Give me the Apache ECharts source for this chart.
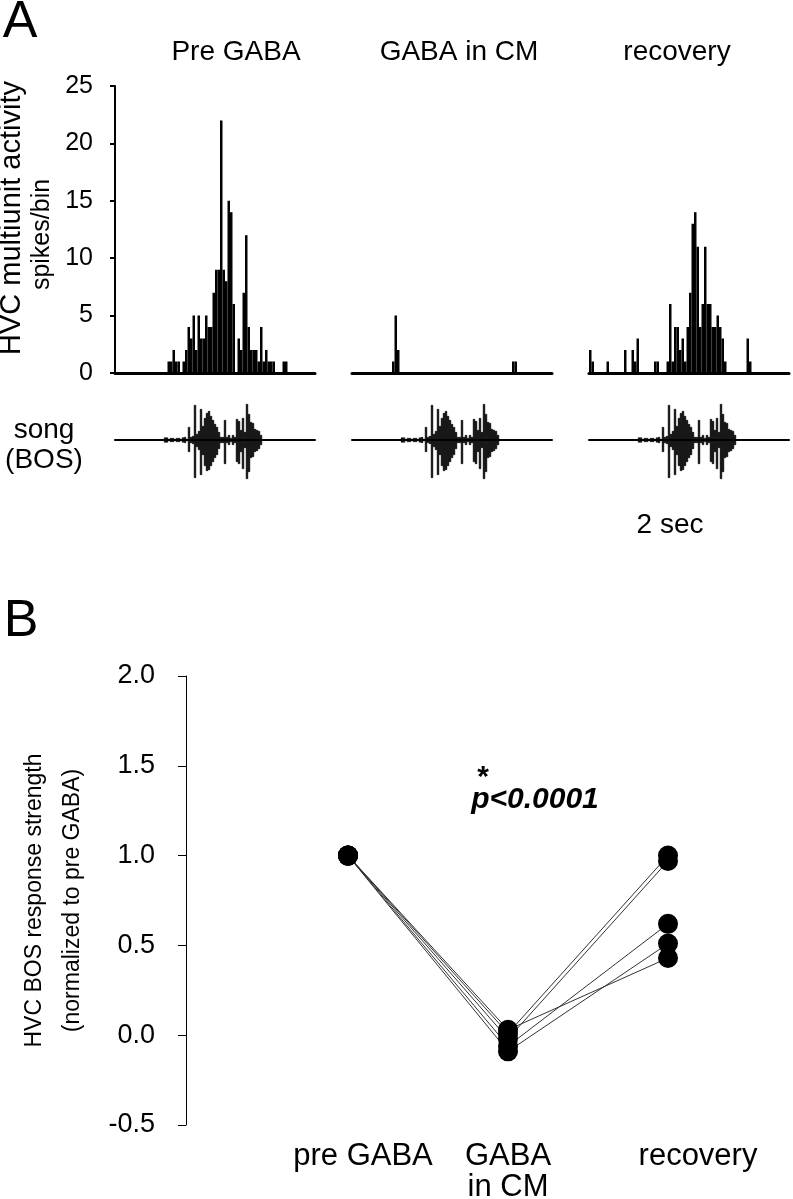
<!DOCTYPE html>
<html><head><meta charset="utf-8">
<script src="https://cdn.jsdelivr.net/npm/echarts@6/dist/echarts.min.js"></script>
<style>html,body{margin:0;padding:0;background:#fff}#c{width:793px;height:1199px}</style>
</head><body><div id="c"></div>
<script>
const FONT = '"Liberation Sans", Arial, Helvetica, sans-serif';

// ---------- Panel A data ----------
const conditionTitles = ['Pre GABA', 'GABA in CM', 'recovery'];
const histTicks = [0, 5, 10, 15, 20, 25];
// spikes per bin, 80 bins per trial
const histPre = [
  0,0,0,0,0,0,0,0,0,0,
  0,0,0,0,0,0,0,0,0,0,
  0,1,1,2,1,1,0,1,2,4,
  3,5,2,5,3,3,5,4,4,7,
  9,9,22,9,8,15,14,6,0,3,
  2,7,12,4,2,2,2,1,4,1,
  2,1,1,1,0,0,0,1,1,0,
  0,0,0,0,0,0,0,0,0,0
];
const histGaba = [
  0,0,0,0,0,0,0,0,0,0,
  0,0,0,0,0,0,1,5,2,0,
  0,0,0,0,0,0,0,0,0,0,
  0,0,0,0,0,0,0,0,0,0,
  0,0,0,0,0,0,0,0,0,0,
  0,0,0,0,0,0,0,0,0,0,
  0,0,0,0,1,1,0,0,0,0,
  0,0,0,0,0,0,0,0,0,0
];
const histRec = [
  2,1,0,0,0,0,0,1,0,0,
  0,0,0,0,2,0,0,2,1,3,
  0,0,0,0,0,0,1,1,0,0,
  0,1,6,1,4,4,2,3,1,4,
  7,13,14,11,4,6,11,6,6,4,
  4,5,4,3,1,0,0,0,0,0,
  0,0,0,3,1,0,0,0,0,0,
  0,0,0,0,0,0,0,0,0,0
];
// song oscillogram envelope (position along trial, upper / lower amplitude)
const songT = [50,52,54,56,58,60,62,64,66,68,70,72,74,76,78,80,82,84,86,88,90,92,94,96,98,100,102,104,106,108,110,112,114,116,118,120,122,124,126,128,130,132,134,136,138,140,142,144,146];
const songUp = [2.5,2.5,1,2,2,1,2,2,1,2.5,3,1,13,3,4,35,6,9,31,14,22,27,29,24,20,16,13,8,3,3,20,3,5,2,5,3,21,19,10,22,8,36,26,18,17,11,10,9,5];
const songDown = [2.5,2.5,1,2,2,1,2,2,1,2.5,3,1,12,3,4,38,7,10,35,15,26,31,30,26,22,18,15,9,3,3,24,3,5,2,5,3,22,24,12,29,8,39,32,18,17,12,11,9,5];

// ---------- Panel B data ----------
const groupLabels = ['pre GABA', 'GABA\nin CM', 'recovery'];
const preVals  = [1.00, 1.00, 1.00, 1.00, 1.00];
const gabaVals = [0.03, 0.01, -0.02, -0.06, -0.09];
const recVals  = [0.43, 1.00, 0.97, 0.62, 0.51];
const yTicksB = [-0.5, 0, 0.5, 1.0, 1.5, 2.0];

const bins = histPre.map((_, i) => String(i));
const histAll = [histPre, histGaba, histRec];
const lefts = [115, 352, 589];

const grids = [], xAxes = [], yAxes = [], series = [];
histAll.forEach((h, k) => {
  grids.push({left: lefts[k], top: 86, width: 200, height: 287, outerBoundsMode: 'none'});
  xAxes.push({type: 'category', gridIndex: k, data: bins, boundaryGap: true,
    axisLine: {show: true, lineStyle: {color: '#000', width: 3}},
    axisTick: {show: false}, axisLabel: {show: false}, splitLine: {show: false}});
  yAxes.push({type: 'value', gridIndex: k, min: histTicks[0], max: histTicks[histTicks.length-1], interval: 5,
    show: k === 0,
    axisLine: {show: true, lineStyle: {color: '#000', width: 2}},
    axisTick: {show: true, length: 5, lineStyle: {color: '#000', width: 2}},
    axisLabel: {show: true, color: '#000', fontSize: 25, fontFamily: FONT, margin: 22},
    splitLine: {show: false},
    name: k === 0 ? '{a|HVC multiunit activity}\n{b|spikes/bin}' : '',
    nameLocation: 'middle', nameRotate: 90, nameGap: 58,
    nameTextStyle: {color: '#000', fontFamily: FONT,
      rich: {a: {fontSize: 29, lineHeight: 30, fontFamily: FONT, color: '#000', padding: [0, 0, 0, 23]},
             b: {fontSize: 25, lineHeight: 30, fontFamily: FONT, color: '#000', padding: [0, 10, 0, 0]}}}
  });
  series.push({type: 'bar', xAxisIndex: k, yAxisIndex: k, data: h,
    barCategoryGap: '0%', itemStyle: {color: '#000', borderColor: '#000', borderWidth: 1.1}, silent: true});
});
// song rows
lefts.forEach((l, k) => {
  const gi = 3 + k;
  grids.push({left: l, top: 400, width: 200, height: 80, outerBoundsMode: 'none'});
  xAxes.push({type: 'value', gridIndex: gi, min: 0, max: 200,
    axisLine: {show: true, onZero: true, lineStyle: {color: '#000', width: 2}},
    axisTick: {show: false}, axisLabel: {show: false}, splitLine: {show: false}});
  yAxes.push({type: 'value', gridIndex: gi, min: -40, max: 40, show: false, splitLine: {show: false}});
  series.push({type: 'bar', xAxisIndex: gi, yAxisIndex: gi, barWidth: 2.2, barGap: '-100%',
    data: songT.map((t, i) => [t, songUp[i]]), itemStyle: {color: '#000', borderColor: '#000', borderWidth: 0.6}, silent: true});
  series.push({type: 'bar', xAxisIndex: gi, yAxisIndex: gi, barWidth: 2.2, barGap: '-100%',
    data: songT.map((t, i) => [t, -songDown[i]]), itemStyle: {color: '#000', borderColor: '#000', borderWidth: 0.6}, silent: true});
});

// Panel B
const gB = 6;
grids.push({left: 268, top: 676, width: 480, height: 449, outerBoundsMode: 'none'});
xAxes.push({type: 'category', gridIndex: gB, data: groupLabels, boundaryGap: true,
  axisLine: {show: false}, axisTick: {show: false}, splitLine: {show: false},
  axisLabel: {show: true, interval: 0, margin: 16, color: '#000', fontSize: 31, fontFamily: FONT,
    formatter: v => v === groupLabels[0] ? '{pre|pre GABA}' : (v === groupLabels[1] ? '{mid|GABA}\n{mid|in CM}' : '{rec|recovery}'),
    rich: {
      pre: {fontSize: 31, fontFamily: FONT, color: '#000', lineHeight: 31, padding: [0, 0, 0, 30]},
      mid: {fontSize: 31, fontFamily: FONT, color: '#000', lineHeight: 31},
      rec: {fontSize: 31, fontFamily: FONT, color: '#000', lineHeight: 31, padding: [0, 0, 0, 60]}
    }}});
yAxes.push({type: 'value', gridIndex: gB, min: yTicksB[0], max: yTicksB[yTicksB.length-1], interval: 0.5,
  offset: 82,
  axisLine: {show: true, lineStyle: {color: '#000', width: 1}},
  axisTick: {show: true, length: 8, lineStyle: {color: '#000', width: 1}},
  axisLabel: {color: '#000', fontSize: 27, fontFamily: FONT, margin: 31, formatter: v => v.toFixed(1)},
  splitLine: {show: false},
  name: 'HVC BOS response strength\n(normalized to pre GABA)',
  nameLocation: 'middle', nameRotate: 90, nameGap: 94,
  nameTextStyle: {color: '#000', fontSize: 23, lineHeight: 38, fontFamily: FONT}
});
preVals.forEach((p, i) => {
  series.push({type: 'line', xAxisIndex: 6, yAxisIndex: 6, data: [p, gabaVals[i], recVals[i]],
    showSymbol: false, symbol: 'none', lineStyle: {color: '#333', width: 1}, silent: true, z: 2});
});
const dots = [];
preVals.forEach((p, i) => { dots.push([0, p]); dots.push([1, gabaVals[i]]); dots.push([2, recVals[i]]); });
series.push({type: 'scatter', xAxisIndex: 6, yAxisIndex: 6, data: dots, symbol: 'circle', symbolSize: 20,
  itemStyle: {color: '#000', opacity: 1}, silent: true, z: 5});

const txt = (x, y, text, size, extra) => ({type: 'text', x, y,
  style: Object.assign({text, fill: '#000', fontSize: size, fontFamily: FONT, align: 'center', verticalAlign: 'middle'}, extra || {})});

const chart = echarts.init(document.getElementById('c'), null, {renderer: 'canvas'});
chart.setOption({
  animation: false,
  backgroundColor: '#fff',
  textStyle: {fontFamily: FONT},
  grid: grids, xAxis: xAxes, yAxis: yAxes, series,
  graphic: [
    txt(20, 23, 'A', 52),
    txt(21, 622, 'B', 52),
    txt(236, 52, conditionTitles[0], 28),
    txt(459, 52, conditionTitles[1], 28),
    txt(677, 52, conditionTitles[2], 28),
    txt(44, 445, 'song\n(BOS)', 28, {lineHeight: 30}),
    txt(670, 525, '2 sec', 28),
    txt(483, 778, '*', 30, {fontWeight: 'bold'}),
    txt(535, 800, 'p<0.0001', 30, {fontWeight: 'bold', fontStyle: 'italic'})
  ]
});
</script></body></html>
